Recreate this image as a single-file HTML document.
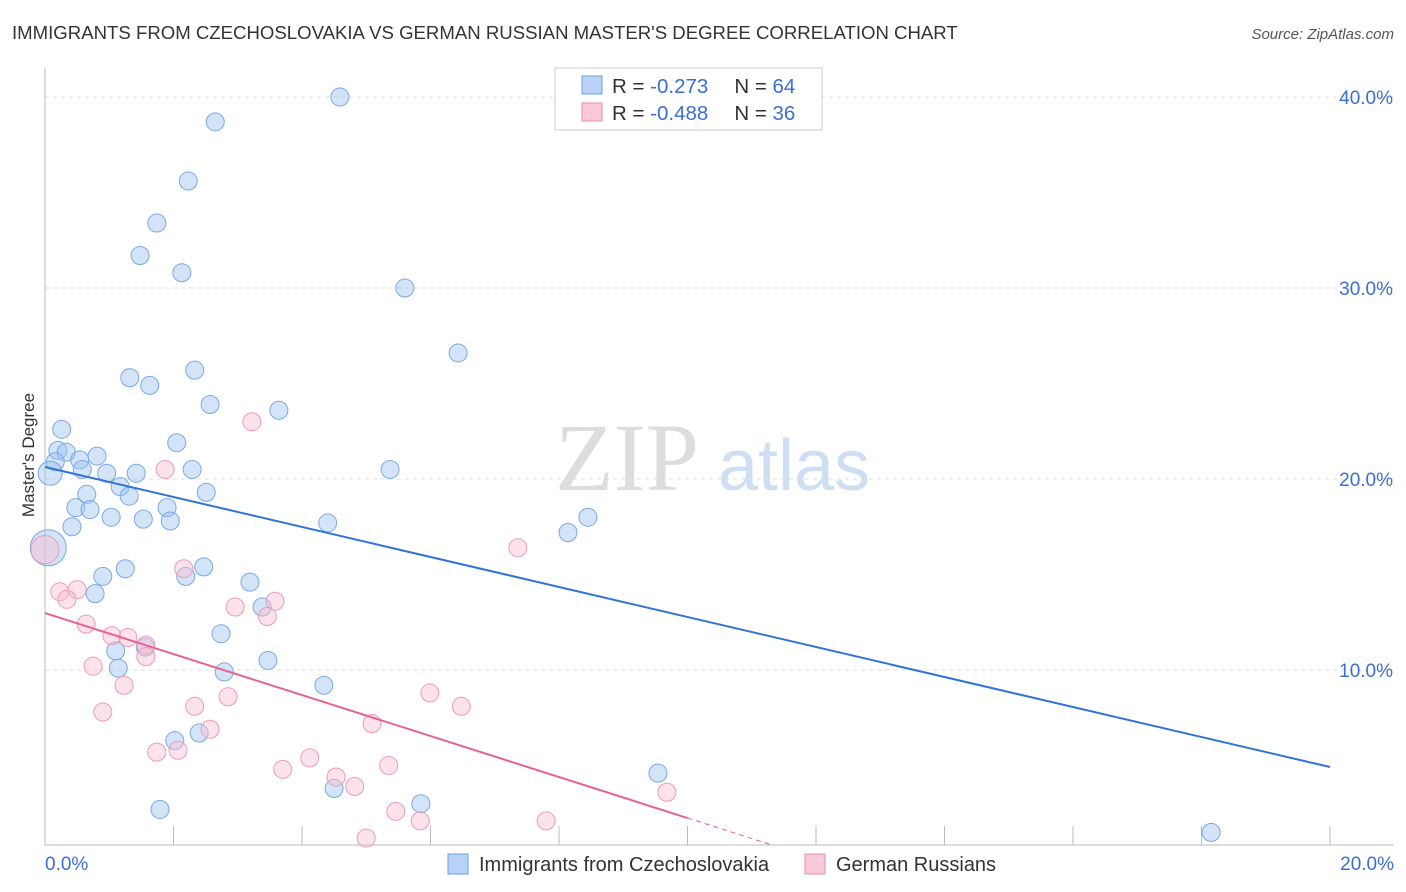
<!DOCTYPE html>
<html><head><meta charset="utf-8"><style>
body{margin:0;background:#fff;font-family:"Liberation Sans",sans-serif;}
#wrap{position:relative;width:1406px;height:892px;overflow:hidden;}
</style></head><body>
<div id="wrap">
<svg id="svg" width="1406" height="892" xmlns="http://www.w3.org/2000/svg">
<text x="12" y="39" font-size="18.6" fill="#333">IMMIGRANTS FROM CZECHOSLOVAKIA VS GERMAN RUSSIAN MASTER'S DEGREE CORRELATION CHART</text>
<text x="1394" y="39" font-size="15" fill="#555" font-style="italic" text-anchor="end">Source: ZipAtlas.com</text>
<text x="34" y="455" font-size="17" fill="#333" text-anchor="middle" transform="rotate(-90 34 455)">Master's Degree</text>
<g><text x="555" y="490" font-size="96" fill="#ddd" font-family="Liberation Serif,serif">ZIP</text><text x="718" y="490" font-size="72" fill="#cfdff3">atlas</text></g>
<g id="grid"></g><g id="marks"></g>
<g>
<rect x="555" y="68" width="267" height="62" fill="#fff" stroke="#ccc"/>
<rect x="582" y="76" width="20" height="18" fill="#b8d3f5" stroke="#6e9fe0"/>
<rect x="582" y="103" width="20" height="18" fill="#f9c9d7" stroke="#e88ba9"/>
<text x="612" y="93" font-size="20.5" fill="#333">R = <tspan fill="#3a6fd1">-0.273</tspan><tspan dx="26">N = </tspan><tspan fill="#3a6fd1">64</tspan></text>
<text x="612" y="120" font-size="20.5" fill="#333">R = <tspan fill="#3a6fd1">-0.488</tspan><tspan dx="26">N = </tspan><tspan fill="#3a6fd1">36</tspan></text>
</g>
<g>
<rect x="448" y="854" width="20" height="20" fill="#b8d3f5" stroke="#6e9fe0"/>
<text x="479" y="871" font-size="20" fill="#333">Immigrants from Czechoslovakia</text>
<rect x="805" y="854" width="20" height="20" fill="#f9c9d7" stroke="#e88ba9"/>
<text x="836" y="871" font-size="20" fill="#333">German Russians</text>
</g>
</svg></div>
<script>
const yTicks=[10,20,30,40];
const czechX=[4.59,2.65,2.23,1.74,1.48,2.13,5.6,6.43,2.33,1.32,1.63,2.57,3.64,0.26,2.05,0.2,0.33,0.81,0.54,0.16,0.08,0.58,0.96,1.42,2.29,5.37,1.17,2.51,0.65,1.31,0.48,0.7,1.9,1.03,1.53,1.95,4.4,0.42,8.45,8.14,0.05,1.25,2.47,0.9,2.19,3.19,0.78,3.38,2.74,1.56,1.1,1.14,3.47,2.79,4.34,2.02,2.4,9.54,4.5,5.85,1.79,18.15];
const czechY=[40.0,38.7,35.6,33.4,31.7,30.8,30.0,26.6,25.7,25.3,24.9,23.9,23.6,22.6,21.9,21.5,21.4,21.2,21.0,20.9,20.3,20.5,20.3,20.3,20.5,20.5,19.6,19.3,19.2,19.1,18.5,18.4,18.5,18.0,17.9,17.8,17.7,17.5,18.0,17.2,16.4,15.3,15.4,14.9,14.9,14.6,14.0,13.3,11.9,11.2,11.0,10.1,10.5,9.9,9.2,6.3,6.7,4.6,3.8,3.0,2.7,1.5];
const grX=[3.22,1.87,7.36,0.0,2.16,0.23,0.5,0.34,3.58,2.96,3.46,0.64,1.04,1.29,1.57,1.57,0.75,1.23,5.99,2.85,6.48,0.9,2.33,5.09,2.57,1.74,2.07,4.12,5.35,3.7,4.53,4.82,9.68,5.46,5.84,7.8,5.0];
const grY=[23.0,20.5,16.4,16.3,15.3,14.1,14.2,13.7,13.6,13.3,12.8,12.4,11.8,11.7,11.3,10.7,10.2,9.2,8.8,8.6,8.1,7.8,8.1,7.2,6.9,5.7,5.8,5.4,5.0,4.8,4.4,3.9,3.6,2.6,2.1,2.1,1.2];
const blueFit=[20.63,4.92];
const pinkFit=[12.98,2.25];
</script>
<script>
const X0=45,X1=1330,Y10=191;
const sx=v=>X0+(X1-X0)*v/20;
const sy=v=>861-Y10*v/10;
const NS="http://www.w3.org/2000/svg";
function mk(p,tag,at){const e=document.createElementNS(NS,tag);for(const k in at)e.setAttribute(k,at[k]);p.appendChild(e);return e;}
const grid=document.getElementById('grid'),marks=document.getElementById('marks');
yTicks.forEach(t=>{
 const l=mk(grid,'line',{x1:45,x2:1394,y1:sy(t),y2:sy(t),stroke:'#ddd','stroke-dasharray':'4,4'});
 
 
 const tx=mk(grid,'text',{x:1393,y:sy(t)+7,'font-size':19,fill:'#3a6fd1','text-anchor':'end'});
 tx.textContent=t.toFixed(1)+'%';
 
 
});
const ax=mk(grid,'line',{x1:45,x2:45,y1:68,y2:845,stroke:'#bbb'});


const bx=mk(grid,'line',{x1:45,x2:1394,y1:845,y2:845,stroke:'#bbb'});


for(let i=1;i<=10;i++){const t=mk(grid,'line',{x1:sx(i*2),x2:sx(i*2),y1:826,y2:845,stroke:'#bbb'});
 
 }
[[0,'0.0%',45,'start'],[20,'20.0%',1394,'end']].forEach(a=>{const t=mk(grid,'text',{x:a[2],y:870,'font-size':19,fill:'#3a6fd1','text-anchor':a[3]});t.textContent=a[1];
 
 });
czechX.forEach((x,i)=>{const r=(i==20||i==40)?(i==40?18:12):9;
 const c=mk(marks,'circle',{cx:sx(x),cy:sy(czechY[i]),r:r,fill:'rgba(160,196,240,0.45)',stroke:'#7aa8e6','stroke-width':1});
 
 });
grX.forEach((x,i)=>{const r=i==3?14:9;
 const c=mk(marks,'circle',{cx:sx(x),cy:sy(grY[i]),r:r,fill:'rgba(248,190,208,0.45)',stroke:'#ec9cb6','stroke-width':1});
 
 });
const bl=mk(marks,'line',{x1:sx(0),y1:sy(blueFit[0]),x2:sx(20),y2:sy(blueFit[1]),stroke:'#2f74d8','stroke-width':2});


const slope=(pinkFit[1]-pinkFit[0])/10;
const yEnd=(861-845)/Y10*10;
const xEnd=(yEnd-pinkFit[0])/slope;
const pl=mk(marks,'line',{x1:sx(0),y1:sy(pinkFit[0]),x2:sx(10),y2:sy(pinkFit[1]),stroke:'#e8628f','stroke-width':2});


const pd=mk(marks,'line',{x1:sx(10),y1:sy(pinkFit[1]),x2:sx(xEnd),y2:sy(yEnd),stroke:'#e8628f','stroke-width':1,'stroke-dasharray':'5,4'});


</script>
</body></html>
